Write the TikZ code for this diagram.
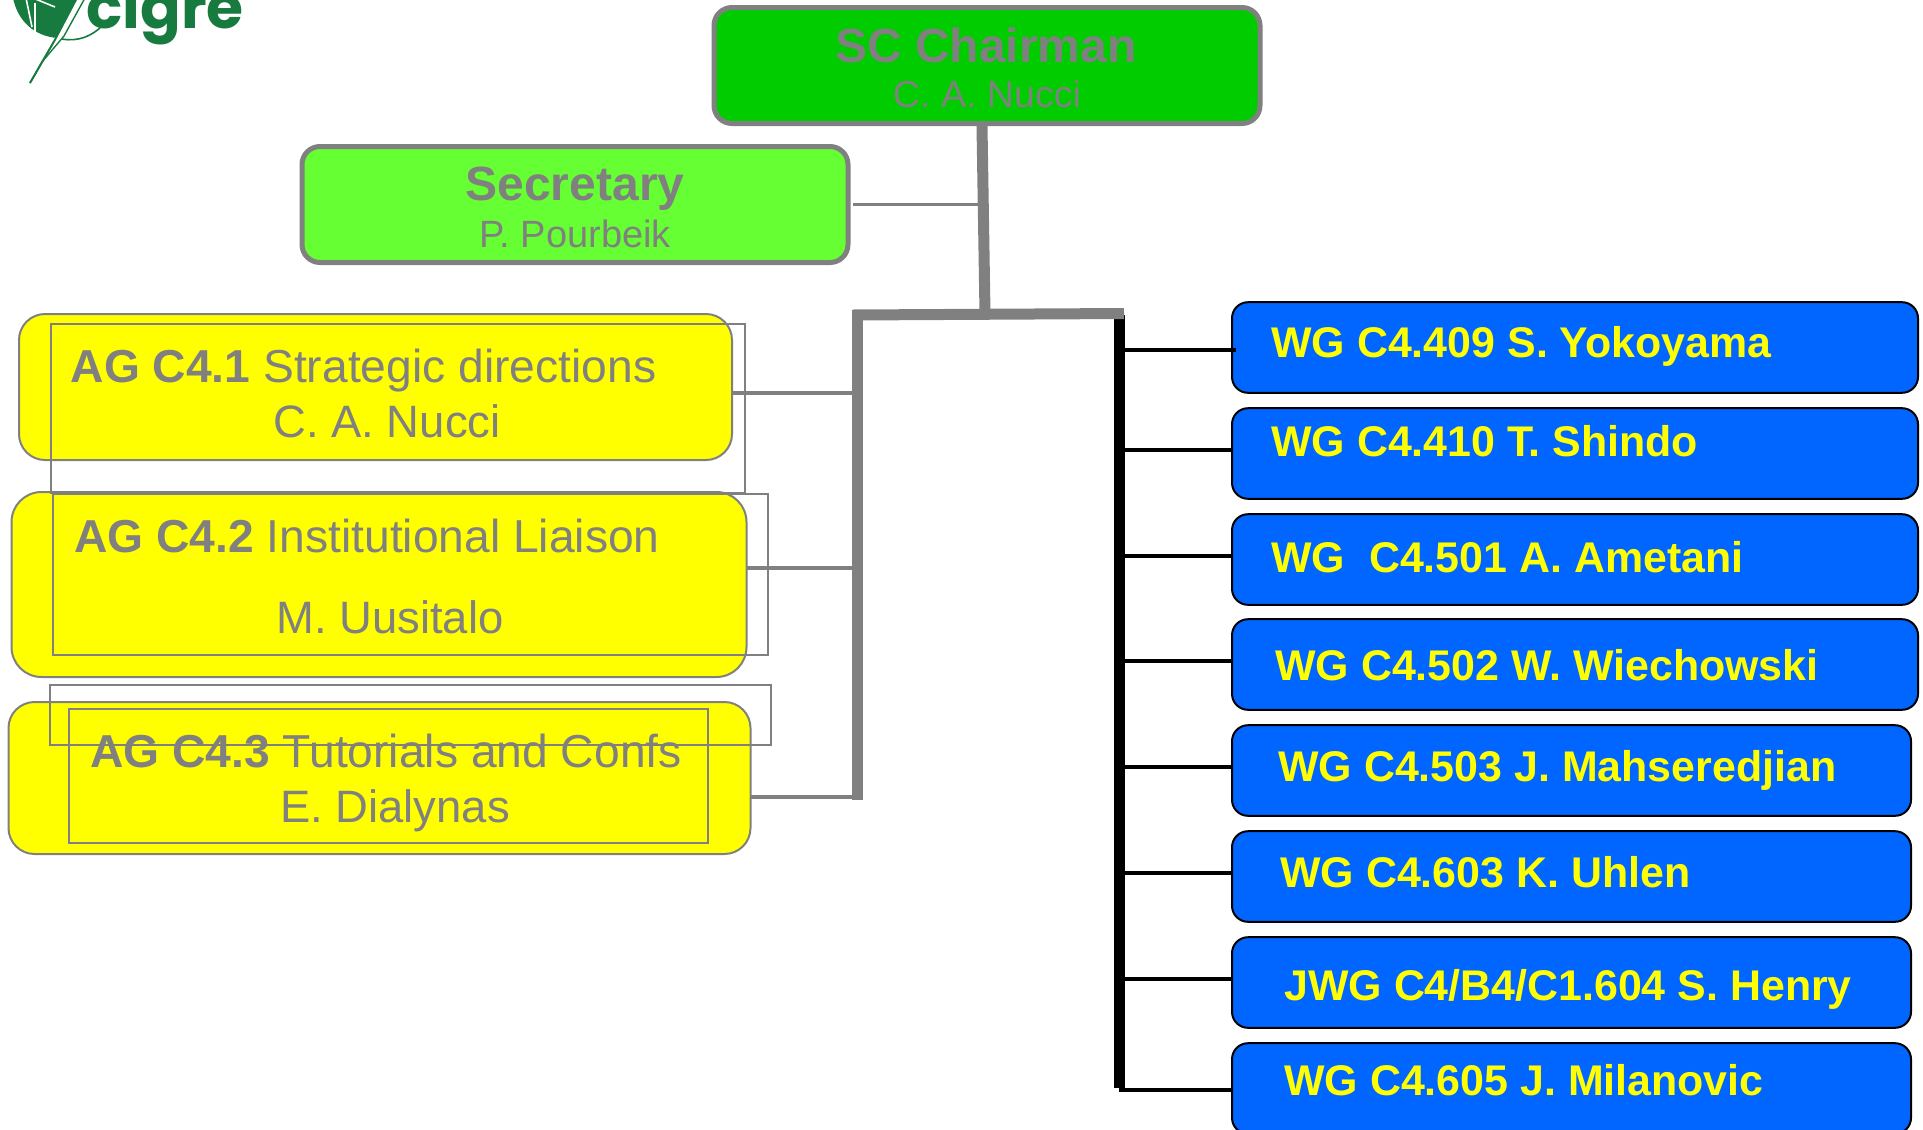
\documentclass[tikz,border=0pt]{standalone}
\usepackage{fontspec}
\setmainfont{Liberation Sans}
\newfontfamily\logofont{Poppins}
\definecolor{chairgreen}{HTML}{00CC00}
\definecolor{secgreen}{HTML}{66FF33}
\definecolor{wgblue}{HTML}{0066FF}
\definecolor{puregold}{HTML}{FFFF00}
\definecolor{leafgreen}{HTML}{177B3F}
\tikzset{
  topbox/.style={draw=gray, line width=2.5pt, rounded corners=9pt, outer sep=0pt, minimum width=273pt, minimum height=58pt},
  agbox/.style={draw=gray, line width=1pt, fill=puregold, rounded corners=13pt, outer sep=0pt},
  wgbox/.style={draw=black, line width=1pt, fill=wgblue, rounded corners=8pt, outer sep=0pt, minimum height=45.3pt},
  overbox/.style={draw=gray, line width=1pt},
  bigbar/.style={draw=gray, line width=5.5pt},
  blackbar/.style={draw=black, line width=5.5pt},
  graytick/.style={draw=gray, line width=1.9pt},
  blacktick/.style={draw=black, line width=2pt},
  lbl/.style={text=gray, inner sep=0pt, anchor=base},
  wglbl/.style={text=puregold, inner sep=0pt, anchor=base west, font=\fontsize{21.45}{25}\selectfont\bfseries}
}
\begin{document}
\begin{tikzpicture}[x=0.5pt, y=-0.5pt]
  \useasboundingbox (0,0) rectangle (1923,1130);
  \clip (0,0) rectangle (1923,1130);

  % logo
  \fill[leafgreen] (13,-2) .. controls (18,22) and (35,36) .. (57,38) -- (78,-2) -- cycle;
  \draw[white, line width=.8pt] (26,-2) -- (32,27);
  \draw[white, line width=.6pt] (35,3) -- (35,32);
  \draw[white, line width=.8pt] (33,-2) -- (55,7);
  \draw[leafgreen, line width=1pt] (30,83) -- (56,38);
  \draw[leafgreen, line width=.7pt] (30,83) -- (42,62) -- (64,36) -- (85,-2);
  \draw[leafgreen, line width=.8pt] (62,39) .. controls (78,42) and (92,36) .. (102,26);
  \node[text=leafgreen, inner sep=0pt, anchor=base west, font=\logofont\fontsize{30}{32}\selectfont\bfseries] (logo) at (86,28) {cigre};

  % top boxes
  \node[topbox, fill=chairgreen] (chair) at (987,65.5) {};
  \node[topbox, fill=secgreen] (secretary) at (575,204.5) {};
  \node[lbl, font=\fontsize{24}{28}\selectfont\bfseries] (chairttl) at (986,62) {SC Chairman};
  \node[lbl, font=\fontsize{18.8}{22}\selectfont] (chairname) at (987,107) {C. A. Nucci};
  \node[lbl, font=\fontsize{24}{28}\selectfont\bfseries] (secttl) at (575,200) {Secretary};
  \node[lbl, font=\fontsize{19}{22}\selectfont] (secname) at (575,247) {P. Pourbeik};

  % advisory groups
  \node[agbox, minimum width=356.5pt, minimum height=73pt] (ag1) at (375.5,387) {};
  \node[agbox, minimum width=367.5pt, minimum height=92.5pt, rounded corners=15pt] (ag2) at (379,584.5) {};
  \node[agbox, minimum width=371pt, minimum height=76pt] (ag3) at (379.5,778) {};
  \draw[overbox] (51,324) rectangle (745,493);
  \draw[overbox] (53,494) rectangle (768,655);
  \draw[overbox] (50,685) rectangle (771,745);
  \draw[overbox] (69,709) rectangle (708,843);
  \foreach \nm/\xc/\yb/\first/\rest in {a/363.5/382/{AG C4.1}/{Strategic directions},
      b/367/552/{AG C4.2}/{Institutional Liaison},
      c/386/767/{AG C4.3}/{Tutorials and Confs}}
    \node[lbl, font=\fontsize{23.1}{27}\selectfont] (agttl\nm) at (\xc,\yb) {\textbf{\first} \rest};
  \foreach \nm/\xc/\yb/\who in {a/387/437/{C. A. Nucci}, b/390/633/{M. Uusitalo}, c/395/822/{E. Dialynas}}
    \node[lbl, font=\fontsize{22.7}{27}\selectfont] (agname\nm) at (\xc,\yb) {\who};

  % working groups
  \foreach \i/\xc/\yc/\boxw/\xt/\yb/\txt in {
      1/1575/347.5/343/1271/357/{WG C4.409 S. Yokoyama},
      2/1575/453.5/343/1271/456/{WG C4.410 T. Shindo},
      3/1575/559.5/343/1271/572/{WG\ \ C4.501 A. Ametani},
      4/1575/664.5/343/1275/680/{WG C4.502 W. Wiechowski},
      5/1571.5/770.5/339.5/1278/781/{WG C4.503 J. Mahseredjian},
      6/1571.5/876.5/339.5/1280/887/{WG C4.603 K. Uhlen},
      7/1571.5/982.5/339.5/1284/1000/{JWG C4/B4/C1.604 S. Henry},
      8/1571.5/1088.5/339.5/1284/1095/{WG C4.605 J. Milanovic}} {
    \node[wgbox, minimum width=\boxw pt] (wg\i) at (\xc,\yc) {};
    \node[wglbl] (wgtxt\i) at (\xt,\yb) {\txt};
  }

  % spine points
  \coordinate (stemtop) at (982,126);
  \coordinate (stembot) at (985,314);
  \coordinate (hubleft) at (853,315);
  \coordinate (hubright) at (1124,313.5);
  \coordinate (grayend) at (857,800);
  \coordinate (blacktop) at (1119,315);
  \coordinate (blackend) at (1119,1088);

  \draw[blackbar] (blacktop) -- (blackend);
  \foreach \i/\yt/\over in {1/349.5/2pt, 2/450/0pt, 3/555.5/0pt, 4/661/0pt, 5/766.5/0pt, 6/873/0pt, 7/979/0pt, 8/1090/0pt} {
    \coordinate (tick\i) at (1119,\yt);
    \draw[blacktick] (tick\i) -- ([xshift=\over]tick\i -| wg\i.west);
  }
  \draw[bigbar] (stemtop) -- (stembot);
  \draw[bigbar] (hubleft) -- (hubright);
  \draw[bigbar] (857,310) -- (grayend);
  \draw[graytick] ([xshift=2.5pt]secretary.east) -- (secretary.east -| stemtop);
  \foreach \i/\yt/\xe in {1/393/857, 2/568/863, 3/797/857} {
    \coordinate (gray\i) at (\xe,\yt);
    \draw[graytick] (gray\i -| ag\i.east) -- (gray\i);
  }
\end{tikzpicture}
\end{document}
